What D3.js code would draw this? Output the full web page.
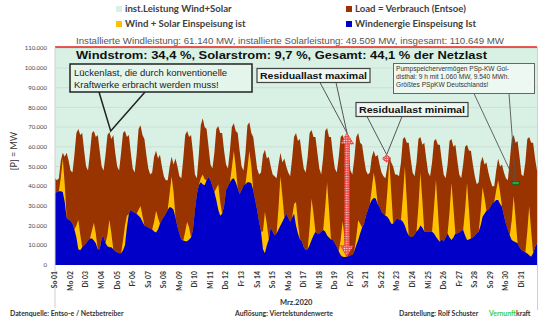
<!DOCTYPE html>
<html><head><meta charset="utf-8">
<script src="https://cdn.jsdelivr.net/npm/d3@7"></script>
<style>body{margin:0;background:#fff}svg{display:block}</style>
</head><body>
<svg id="c" width="548" height="329"></svg>
<script>
// ---- data (thousand MW, every 3 h from 01.03.2020 00:00) ----
const UNIT = 1000;
const dayLabels = ["So 01","Mo 02","Di 03","Mi 04","Do 05","Fr 06","Sa 07","So 08","Mo 09","Di 10","Mi 11","Do 12","Fr 13","Sa 14","So 15","Mo 16","Di 17","Mi 18","Do 19","Fr 20","Sa 21","So 22","Mo 23","Di 24","Mi 25","Do 26","Fr 27","Sa 28","So 29","Mo 30","Di 31"];
const yTicks = [0,10000,20000,30000,40000,50000,60000,70000,80000,90000,100000,110000];
const installedTotal = 110649;
const load = [
44,43,44,53,57,55,57,53,
48,47,56,67,69,66,67,58,
50,48,57,67,68,65,66,58,
50,48,56,66,67.5,64,66,57,
50,48,57,67,68,65,66,57,
49,47,56,69,71,66,64,56,
49,46,47,55,58,54,56,50,
45,43,43,50,55,51,54,50,
45,44,54,66,68,65,66,57,
46,44,56,71,74.5,70,69,60,
51,49,57,69,70.5,67,67,58,
51,49,58,70,72,68,67,58,
50,48,57,71,72.5,67,65,57,
49,46,47,56,58.5,54,55,50,
46,45,44,51,57,52,54,50,
47,45,54,65,67,63,64,56,
49,47,55,67,68.5,65,65,57,
49,46,55,68,69.5,65,65,56,
49,47,55,65,66,63,65,57,
48,46,54,65,67,62,61,54,
48,46,47,55,58,55,56,51,
47,45,44,50,55,52,50,46,
46,45,52,64,65,62,62,54,
47,45,52,64,65,61,62,54,
47,45,52,63,64,61,61,53,
46,44,51,63,64,60,61,53,
46,44,51,60,61,58,58,51,
45,41,42,52,55,51,52,47,
43,40,40,48,54,50,51,47,
44,43,53,64,66,62,63,55,
46,45,52,64,65,62,62,54,
48];
const wind = [
36.5,37,37.5,37.5,37,32,24,23,
22.5,21,18,14,8,7.5,9,10,
11,12.5,13.5,13.5,12.5,11,8,8,
13.5,14.5,11,9.5,9,9,8,7,
6.5,6,6,7.5,10,19,26,28,
27,26.5,26,25,24,22,20,19.5,
19,18.5,18,17,16.5,18,21,23,
24.5,26,28,29.5,29,28,24,19.5,
16,13,12.5,12,12,13,14,18,
28,36,40.5,42,41,40.5,43,44.5,
43,40,37,33,28,25,26,30,
38,40,42,43.5,44,42,39,36,
38,40.5,41,42,42,41.5,38,33,
28,22,17,8,6,10,13,19,
17,15,16,18,20,22,24,26,
24,22,24,26,20,16,13,12,
9,7.6,8,10,12.7,15,16.9,16,
16,17,17.8,17,15,14,13,12.7,
11,9.3,7,5,4.2,4,4.2,4.5,
5,5.1,7,10,12.7,16,19,21,
25,28,31,33,34,33.8,31,29.6,
27,26,25,24.5,23,21,21,22.5,
23.7,23,22.8,22,20,17,15,14.4,
14.4,15.5,17,18,20,19,17,16.9,
16.9,17,16.9,16,14.4,13,11.8,13,
12,14,16,14,12.7,14,16,16,
16.5,17.5,17.8,15,12.7,13,13.5,14,
15,16,17,20,24.5,26,27.5,28,
29.5,31.3,32,33,33,31,29.6,25,
21,18,15,12.7,12,11.5,11,9,
7.6,7,6.5,5.9,5,4.2,6,9,
11];
const solar = [
0,0,0,7,17,9,0,0,
0,0,0,6,15,8,0,0,
0,0,0,4,9,5,0,0,
0,0,0,6,14,7,0,0,
0,0,0,5,10,6,0,0,
0,0,0,3,6,3,0,0,
0,0,0,5,11,6,0,0,
0,0,0,7,16,9,0,0,
0,0,0,5,10,6,0,0,
0,0,0,2,5,3,0,0,
0,0,0,6,13,7,0,0,
0,0,0,6,14,8,0,0,
0,0,0,7,16,9,0,0,
0,0,0,9,21,11,0,0,
0,0,0,11,25,13,0,0,
0,0,0,5,12,6,0,0,
0,0,0,9,21,11,0,0,
0,0,0,12,27,14,0,0,
0,0,0,8,18,10,0,0,
0,0,0,4,10,5,0,0,
0,0,0,6,13,7,0,0,
0,0,0,13,30,16,0,0,
0,0,0,13,30,16,0,0,
0,0,0,12,27,14,0,0,
0,0,0,13,29,15,0,0,
0,0,0,13,29,15,0,0,
0,0,0,13,29,15,0,0,
0,0,0,7,15,8,0,0,
0,0,0,5,10,6,0,0,
0,0,0,10,23,12,0,0,
0,0,0,11,25,13,0,0,
0];

// ---- setup ----
const t0 = Date.UTC(2020,2,1);
const H3 = 3*3600*1000;
const rows = load.map((v,i)=>({t:new Date(t0+i*H3), load:v*UNIT, wind:wind[i]*UNIT, ws:(wind[i]+solar[i])*UNIT}));
const svg = d3.select("#c");
const x = d3.scaleUtc().domain([new Date(t0), new Date(Date.UTC(2020,3,1))]).range([55,537]);
const y = d3.scaleLinear().domain([0,110000]).range([265,48.3]);
const de = d3.formatLocale({decimal:",",thousands:".",grouping:[3],currency:["","€"]});
const fmt = de.format(",");
const FONT = "Lato, 'Liberation Sans', sans-serif";
const AR = "'Liberation Sans', Arial, sans-serif";

// background area (installed capacity)
svg.append("rect").attr("x",x.range()[0]).attr("y",y(installedTotal))
  .attr("width",x.range()[1]-x.range()[0]).attr("height",y(0)-y(installedTotal)).attr("fill","#d9f1e4");
// grid
svg.append("g").selectAll("line").data(yTicks.filter(v=>v>0)).join("line")
  .attr("x1",x.range()[0]).attr("x2",x.range()[1]).attr("y1",d=>y(d)).attr("y2",d=>y(d))
  .attr("stroke","#bfd8cb").attr("stroke-width",0.6);

const area = key => d3.area().x(d=>x(d.t)).y0(y(0)).y1(d=>y(d[key]));
svg.append("path").datum(rows).attr("d",area("load")).attr("fill","#993300");
svg.append("path").datum(rows).attr("d",area("ws")).attr("fill","#ffc000");
svg.append("path").datum(rows).attr("d",area("wind")).attr("fill","#0000c8");

// installed line
svg.append("line").attr("x1",x.range()[0]).attr("x2",x.range()[1])
  .attr("y1",y(installedTotal)).attr("y2",y(installedTotal)).attr("stroke","#e0201c").attr("stroke-width",1.4);

// frame lines
svg.append("line").attr("x1",55).attr("x2",55).attr("y1",y(installedTotal)).attr("y2",308).attr("stroke","#d0d0d0");
svg.append("line").attr("x1",537.5).attr("x2",537.5).attr("y1",y(installedTotal)).attr("y2",310).attr("stroke","#d0d0d0");

// y axis labels
svg.append("g").selectAll("text").data(yTicks).join("text")
  .attr("x",47).attr("y",d=>y(d)).attr("dy","0.35em").attr("text-anchor","end")
  .attr("font-family",FONT).attr("font-size",6).attr("fill","#444").text(d=>fmt(d));
svg.append("text").attr("transform","translate(17,151) rotate(-90)").attr("text-anchor","middle")
  .attr("font-family",FONT).attr("font-size",9).attr("fill","#333").text("[P] = MW");

// x axis labels
svg.append("g").selectAll("text").data(dayLabels).join("text")
  .attr("transform",(d,i)=>`translate(${x(new Date(Date.UTC(2020,2,1+i)))},271) rotate(-90)`)
  .attr("dy","0.35em").attr("text-anchor","end")
  .attr("font-family",FONT).attr("font-weight",700).attr("font-size",6.8).attr("fill","#333").text(d=>d);
svg.append("text").attr("x",280).attr("y",305).attr("font-family",FONT).attr("font-weight",700)
  .attr("font-size",7.5).attr("fill","#333").text("Mrz.2020");

// footer
const foot = svg.append("g").attr("font-family",FONT).attr("font-weight",700).attr("font-size",6.9).attr("fill","#333");
foot.append("text").attr("x",10).attr("y",316).text("Datenquelle:  Entso-e  / Netzbetreiber");
foot.append("text").attr("x",235).attr("y",316).text("Auflösung: Viertelstundenwerte");
foot.append("text").attr("x",399).attr("y",316).text("Darstellung:  Rolf Schuster");
const vk = foot.append("text").attr("x",489).attr("y",316);
vk.append("tspan").attr("fill","#3ccc3c").text("Vernunft");
vk.append("tspan").text("kraft");

// legend
const legend = [
  {label:"inst.Leistung Wind+Solar", color:"#d9f1e4", x:116, y:9},
  {label:"Wind + Solar Einspeisung ist", color:"#ffc000", x:116, y:24},
  {label:"Load =  Verbrauch (Entsoe)", color:"#993300", x:346, y:9},
  {label:"Windenergie Einspeisung Ist", color:"#0000c8", x:346, y:24}
];
const lg = svg.append("g").selectAll("g").data(legend).join("g").attr("transform",d=>`translate(${d.x},${d.y})`);
lg.append("rect").attr("x",0).attr("y",-3).attr("width",6).attr("height",6).attr("fill",d=>d.color);
lg.append("text").attr("x",9).attr("dy","0.35em").attr("font-family",FONT).attr("font-weight",700)
  .attr("font-size",9.6).attr("fill","#404040").text(d=>d.label);

// header texts
svg.append("text").attr("x",76).attr("y",44).attr("font-family",AR).attr("font-size",8.2).attr("fill","#555")
  .attr("textLength",428).attr("lengthAdjust","spacingAndGlyphs")
  .text("Installierte Windleistung: 61.140 MW, installierte Solarleistung: 49.509 MW, insgesamt: 110.649 MW");
svg.append("text").attr("x",76).attr("y",59).attr("font-family",AR).attr("font-weight",700).attr("font-size",11.5).attr("fill","#111")
  .attr("textLength",411).attr("lengthAdjust","spacingAndGlyphs")
  .text("Windstrom: 34,4 %, Solarstrom: 9,7 %, Gesamt: 44,1 % der Netzlast");

// ---- annotations ----
const ann = svg.append("g");
function wedge(x1,x2,yb,ax,ay,col,w){
  ann.append("path").attr("d",`M${x1},${yb}L${ax},${ay}L${x2},${yb}`).attr("fill","none").attr("stroke",col).attr("stroke-width",w);
}
// Lückenlast
wedge(99,145,92,x(new Date(Date.UTC(2020,2,4,14))),y(68000),"#222",1.5);
ann.append("rect").attr("x",70).attr("y",64).attr("width",182).attr("height",28).attr("fill","#e4f6ec").attr("stroke","#222").attr("stroke-width",1.5);
ann.append("text").attr("x",74).attr("y",75.5).attr("font-family",AR).attr("font-size",9.5).attr("fill","#222").text("Lückenlast, die durch konventionelle");
ann.append("text").attr("x",74).attr("y",87.5).attr("font-family",AR).attr("font-size",9.5).attr("fill","#222").text("Kraftwerke erbracht werden muss!");

// Residuallast maximal
const rmaxT = new Date(Date.UTC(2020,2,19,18,45));
wedge(320,336,82.5,x(rmaxT),y(67000),"#555",1);
ann.append("rect").attr("x",257).attr("y",68.5).attr("width",113).attr("height",14).attr("fill","#eef8f2").attr("stroke","#444").attr("stroke-width",1.2);
ann.append("text").attr("x",260).attr("y",79).attr("font-family",AR).attr("font-weight",700).attr("font-size",9.6).attr("fill","#111")
  .attr("textLength",107).attr("lengthAdjust","spacingAndGlyphs").text("Residuallast maximal");

// Residuallast minimal
const rminT = new Date(Date.UTC(2020,2,22,8));
wedge(367,402,116.5,x(rminT),y(56000),"#555",1);
ann.append("rect").attr("x",356).attr("y",102.5).attr("width",112).attr("height",14).attr("fill","#eef8f2").attr("stroke","#444").attr("stroke-width",1.2);
ann.append("text").attr("x",359).attr("y",113).attr("font-family",AR).attr("font-weight",700).attr("font-size",9.6).attr("fill","#111")
  .attr("textLength",106).attr("lengthAdjust","spacingAndGlyphs").text("Residuallast  minimal");

// Pumpspeicher
const pspT = new Date(Date.UTC(2020,2,30,15));
wedge(474,509,93.5,x(pspT),y(41800),"#555",0.9);
ann.append("rect").attr("x",393.5).attr("y",63.5).attr("width",141).attr("height",30).attr("fill","#eef8f2").attr("stroke","#666").attr("stroke-width",1);
const pt = ["Pumpspeichervermögen PSp-KW Gol-","disthal: 9 h mit 1.060 MW, 9.540 MWh.","Größtes PSpKW Deutschlands!"];
ann.selectAll("text.p").data(pt).join("text").attr("class","p").attr("x",396).attr("y",(d,i)=>70.5+i*8.3)
  .attr("font-family",AR).attr("font-size",6.6).attr("fill","#333").text(d=>d);
ann.append("rect").attr("x",x(pspT)-3.5).attr("y",y(41600)-1.5).attr("width",7).attr("height",3)
  .attr("fill","#22aa44").attr("stroke","#105520").attr("stroke-width",0.6);

// dotted arrows
const defs = svg.append("defs");
const pat = defs.append("pattern").attr("id","dots").attr("width",2.4).attr("height",2.4).attr("patternUnits","userSpaceOnUse");
pat.append("rect").attr("width",2.4).attr("height",2.4).attr("fill","#f24a4a");
pat.append("circle").attr("cx",1.2).attr("cy",1.2).attr("r",0.65).attr("fill","#ffffff");
function dArrow(cx,ty,by,hw,hh,sw){
  const p = `M${cx},${ty}L${cx+hw},${ty+hh}L${cx+sw},${ty+hh}L${cx+sw},${by-hh}L${cx+hw},${by-hh}L${cx},${by}L${cx-hw},${by-hh}L${cx-sw},${by-hh}L${cx-sw},${ty+hh}L${cx-hw},${ty+hh}Z`;
  ann.append("path").attr("d",p).attr("fill","url(#dots)").attr("stroke","#d42020").attr("stroke-width",0.9).attr("stroke-dasharray","1.2,0.8");
}
dArrow(x(rmaxT),y(67000),y(4200),6.5,11,2.5);
dArrow(x(rminT),y(55800),y(52200),4,3,1.5);
</script>
</body></html>
